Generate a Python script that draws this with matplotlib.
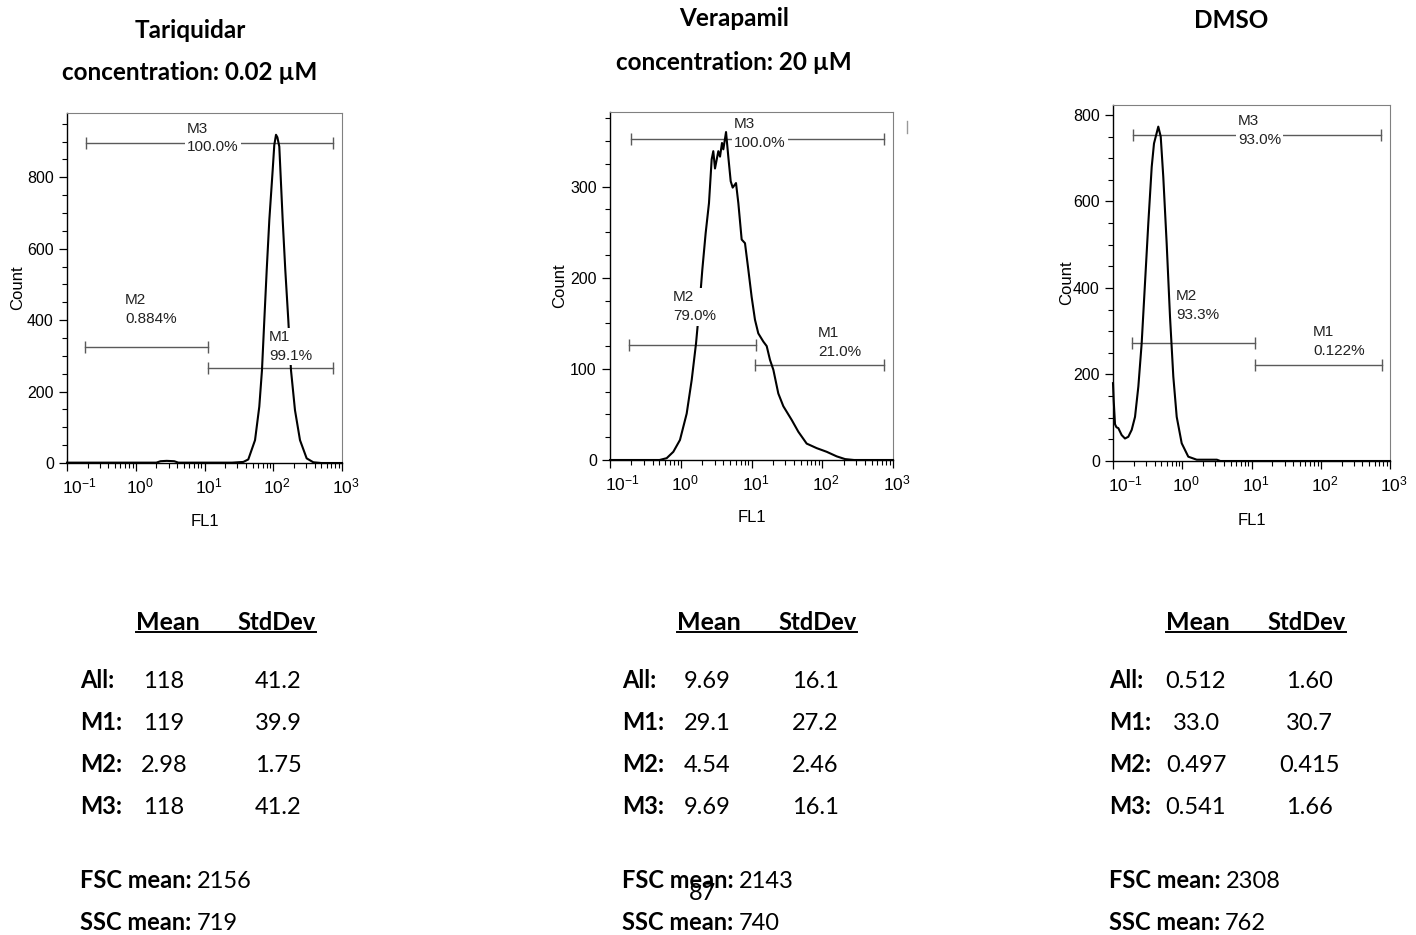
import numpy as np
import matplotlib
matplotlib.use("Agg")
import matplotlib.pyplot as plt
import matplotlib.transforms as mtransforms
from matplotlib.ticker import FixedLocator, MultipleLocator, NullFormatter

plt.rcParams.update({
    "font.family": "Liberation Sans",
    "mathtext.fontset": "custom",
    "mathtext.rm": "Liberation Sans",
    "mathtext.it": "Liberation Sans:italic",
    "mathtext.bf": "Liberation Sans:bold",
})

W, H = 1416, 935
DOC_FONT = "Lato"

# ---- data ----
TITLES = [["Tariquidar", "concentration: 0.02 µM"],
          ["Verapamil", "concentration: 20 µM"],
          ["DMSO"]]

# histograms: log10(FL1) vs count
tar_log = [-1.0, 0.30, 0.36, 0.45, 0.56, 0.62, 1.40, 1.565, 1.637, 1.735, 1.797, 1.836,
           1.870, 1.905, 1.943, 1.992, 2.015, 2.040, 2.060, 2.088, 2.137, 2.175, 2.219,
           2.258, 2.316, 2.389, 2.486, 2.583, 2.70, 3.0]
tar_cnt = [1, 1, 5, 6, 5, 1, 1, 3, 10, 64, 158, 260,
           400, 541, 681, 821, 890, 919, 912, 886, 681, 541, 400,
           260, 148, 64, 13, 2, 0, 0]

ver_log = [-1.0, -0.30, -0.199, -0.105, -0.011, 0.084, 0.155, 0.216, 0.263, 0.305, 0.352,
           0.399, 0.437, 0.460, 0.484, 0.531, 0.555, 0.583, 0.602, 0.640, 0.672, 0.706,
           0.734, 0.781, 0.814, 0.861, 0.908, 0.955, 1.002, 1.049, 1.096, 1.167, 1.215,
           1.261, 1.309, 1.379, 1.450, 1.568, 1.662, 1.780, 1.922, 2.063, 2.204, 2.322,
           2.45, 3.0]
ver_cnt = [0, 0, 2, 9, 22, 51, 88, 128, 168, 209, 249,
           282, 330, 339, 320, 339, 333, 348, 341, 360, 333, 306,
           299, 304, 282, 242, 238, 209, 179, 154, 139, 130, 125,
           110, 99, 73, 59, 44, 31, 18, 13, 9, 4, 1,
           0, 0]

dmso_log = [-1.0, -0.99, -0.971, -0.95, -0.923, -0.875, -0.827, -0.779, -0.730, -0.682,
            -0.634, -0.586, -0.538, -0.490, -0.441, -0.408, -0.346, -0.311, -0.274,
            -0.225, -0.177, -0.129, -0.080, -0.008, 0.087, 0.209, 0.50, 0.55, 3.0]
dmso_cnt = [180, 140, 85, 78, 76, 60, 52, 56, 72, 102,
            172, 272, 411, 550, 680, 734, 773, 750, 657,
            503, 334, 195, 102, 41, 10, 3, 3, 0, 0]

HIST_LOG = [tar_log, ver_log, dmso_log]
HIST_CNT = [tar_cnt, ver_cnt, dmso_cnt]
YMAX = [980, 382, 823]
YMAJOR = [200, 100, 200]
YMINOR = [50, 25, 50]

# marker gates: name, start, end, count level, percent
GATE_NAMES = ["M1", "M2", "M3"]
GATE_START = [[11.2, 0.183, 0.19], [11.2, 0.184, 0.196], [11.2, 0.186, 0.192]]
GATE_END = [[740, 11.2, 740], [753, 11.4, 753], [759, 11.2, 735]]
GATE_LEVEL = [[266, 325, 897], [104, 126, 352], [222, 273, 754]]
GATE_PCT = [["99.1%", "0.884%", "100.0%"],
            ["21.0%", "79.0%", "100.0%"],
            ["0.122%", "93.3%", "93.0%"]]
# label anchors (FL1 of left edge, count of block centre)
LABEL_X = [[86.7, 0.70, 5.56], [87.1, 0.776, 5.66], [77.3, 0.813, 6.38]]
LABEL_Y = [[326, 429, 910], [129, 168, 358], [276, 360, 764]]

ROW_NAMES = ["All:", "M1:", "M2:", "M3:"]
MEANS = [["118", "119", "2.98", "118"],
         ["9.69", "29.1", "4.54", "9.69"],
         ["0.512", "33.0", "0.497", "0.541"]]
STDS = [["41.2", "39.9", "1.75", "41.2"],
        ["16.1", "27.2", "2.46", "16.1"],
        ["1.60", "30.7", "0.415", "1.66"]]
FSC = ["2156", "2143", "2308"]
SSC = ["719", "740", "762"]

# ---- layout (pixels) ----
AX_BOX = [(67, 342, 113, 463), (610, 893, 112, 460), (1113, 1390, 105, 461)]
YLAB_X = [-0.153, -0.152, -0.141]
TITLE_CX = [190, 734, 1231]
TITLE_Y = [[30, 72], [18, 63], [20]]
TAB_LEFT = [80, 622, 1109]
MEAN_CX = [164, 707, 1196]
STD_CX = [278, 815, 1309]
HEAD_SPAN = [(136, 316), (677, 857), (1166, 1346)]
HEAD_Y = 622
ROW_Y = [681, 723, 765, 807]
FSC_Y, SSC_Y = 882, 924
TXT = 17

fig = plt.figure(figsize=(W / 100, H / 100), dpi=100)
bg = fig.add_axes([0, 0, 1, 1])
bg.set_xlim(0, W)
bg.set_ylim(H, 0)
bg.axis("off")

GATE_COLOR = "#5a5a5a"
pending = []  # (label text, value, y) pairs to place once text sizes are known

for i in range(3):
    l, r, t, b = AX_BOX[i]
    ax = fig.add_axes([l / W, 1 - b / H, (r - l) / W, (b - t) / H])
    ax.set_facecolor("none")
    ax.set_xscale("log")
    ax.set_xlim(0.1, 1000)
    ax.set_ylim(0, YMAX[i])

    x = 10 ** np.array(HIST_LOG[i])
    ax.plot(x, HIST_CNT[i], color="black", lw=1.5, clip_on=False, zorder=3)

    for g in range(3):
        ax.plot([GATE_START[i][g], GATE_END[i][g]], [GATE_LEVEL[i][g]] * 2,
                color=GATE_COLOR, lw=1.0, marker="|", ms=9, mew=1.0, zorder=2)
        ax.text(LABEL_X[i][g], LABEL_Y[i][g], GATE_NAMES[g] + "\n" + GATE_PCT[i][g],
                ha="left", va="center", fontsize=11, linespacing=1.45, color="#222222",
                bbox=dict(facecolor="white", edgecolor="none", pad=1.5), zorder=4)

    # axes styling
    for s in ["left", "bottom"]:
        ax.spines[s].set_color("black")
        ax.spines[s].set_linewidth(1.0)
    for s in ["top", "right"]:
        ax.spines[s].set_color("#808080")
        ax.spines[s].set_linewidth(0.8)
    ax.xaxis.set_major_locator(FixedLocator([0.1, 1, 10, 100, 1000]))
    ax.set_xticklabels([r"$10^{-1}$", r"$10^{0}$", r"$10^{1}$", r"$10^{2}$", r"$10^{3}$"])
    minors = [m * 10.0 ** e for e in range(-1, 3) for m in range(2, 10)]
    ax.xaxis.set_minor_locator(FixedLocator(minors))
    ax.xaxis.set_minor_formatter(NullFormatter())
    ax.yaxis.set_major_locator(MultipleLocator(YMAJOR[i]))
    ax.yaxis.set_minor_locator(MultipleLocator(YMINOR[i]))
    ax.tick_params(which="major", direction="out", length=6, width=0.9, labelsize=11.5,
                   top=False, right=False, pad=3.5)
    ax.tick_params(which="minor", direction="out", length=3.5, width=0.8,
                   top=False, right=False)
    ax.tick_params(axis="x", which="major", labelsize=12.5, pad=4)
    for k, lab in enumerate(ax.get_xticklabels()):
        dx = 12 if k == 0 else 4
        lab.set_transform(lab.get_transform() +
                          mtransforms.ScaledTranslation(dx / 100, 0, fig.dpi_scale_trans))
    ax.set_ylabel("Count", fontsize=12)
    ax.set_xlabel("FL1", fontsize=12)
    ax.yaxis.set_label_coords(YLAB_X[i], 0.5)
    ax.xaxis.set_label_coords(0.5, -0.145)

    # titles
    for k, line in enumerate(TITLES[i]):
        bg.text(TITLE_CX[i], TITLE_Y[i][k], line, ha="center", va="center",
                fontsize=17.5, fontweight="bold", family=DOC_FONT)

    # statistics table
    h0, h1 = HEAD_SPAN[i]
    bg.text(h0, HEAD_Y, "Mean", ha="left", va="center", fontsize=TXT + 1,
            fontweight="bold", family=DOC_FONT)
    bg.text(h1, HEAD_Y, "StdDev", ha="right", va="center", fontsize=TXT,
            fontweight="bold", family=DOC_FONT)
    bg.plot([h0, h1], [HEAD_Y + 10, HEAD_Y + 10], color="black", lw=1.4)
    for k, name in enumerate(ROW_NAMES):
        bg.text(TAB_LEFT[i], ROW_Y[k], name, ha="left", va="center", fontsize=TXT,
                fontweight="bold", family=DOC_FONT)
        bg.text(MEAN_CX[i], ROW_Y[k], MEANS[i][k], ha="center", va="center",
                fontsize=TXT, family=DOC_FONT)
        bg.text(STD_CX[i], ROW_Y[k], STDS[i][k], ha="center", va="center",
                fontsize=TXT, family=DOC_FONT)
    for yy, name, val in [(FSC_Y, "FSC mean:", FSC[i]), (SSC_Y, "SSC mean:", SSC[i])]:
        tt = bg.text(TAB_LEFT[i], yy + 6, name, ha="left", va="baseline", fontsize=TXT,
                     fontweight="bold", family=DOC_FONT)
        pending.append((tt, val, yy + 6))

# put the plain values right after their bold labels, on the same baseline
fig.canvas.draw()
renderer = fig.canvas.get_renderer()
inv = bg.transData.inverted()
for tt, val, yy in pending:
    ext = tt.get_window_extent(renderer)
    x_end = inv.transform((ext.x1, ext.y0))[0]
    bg.text(x_end + 5, yy, val, ha="left", va="baseline", fontsize=TXT, family=DOC_FONT)

# page number and stray mark from the source page
bg.text(702, 893, "87", ha="center", va="center", fontsize=TXT, family=DOC_FONT)
bg.plot([907, 907], [121, 133], color="#999999", lw=1)

fig.savefig("out.png", dpi=100)
